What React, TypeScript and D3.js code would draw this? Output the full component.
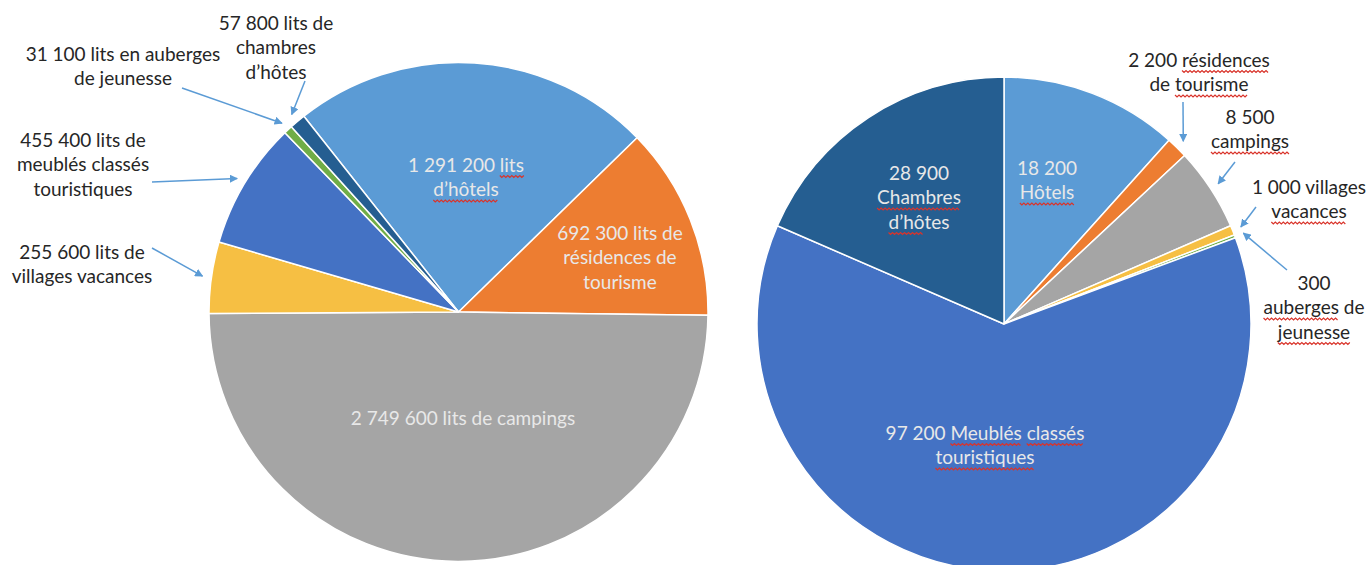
import { useEffect, useRef } from "react";
import * as d3 from "d3";

// beds (left pie), order as drawn clockwise
const leftOrder = ["hotels", "residences", "campings", "villages", "meubles", "auberges", "chambres"];
const leftValues = [1291200, 692300, 2749600, 255600, 455400, 31100, 57800];

// establishments (right pie)
const rightOrder = ["hotels", "residences", "campings", "villages", "auberges", "meubles", "chambres"];
const rightValues = [18200, 2200, 8500, 1000, 300, 97200, 28900];

const colors: Record<string, string> = {
  hotels: "#5b9bd5",
  residences: "#ed7d31",
  campings: "#a5a5a5",
  villages: "#f6bf43",
  meubles: "#4472c4",
  auberges: "#70ad47",
  chambres: "#255e91",
};

type Label = {
  key: string;
  lines: string[];
  x: number;
  y: number;
  inside: boolean;
  wavy?: string[];
  tail?: [number, number];
};

const leftLabels: Label[] = [
  { key: "chambres", lines: ["57 800 lits de", "chambres", "d’hôtes"], x: 276, y: 23, inside: false, tail: [305, 81] },
  { key: "auberges", lines: ["31 100 lits en auberges", "de jeunesse"], x: 123, y: 54, inside: false, tail: [182, 88] },
  { key: "meubles", lines: ["455 400 lits de", "meublés classés", "touristiques"], x: 83, y: 140, inside: false, tail: [152, 182] },
  { key: "villages", lines: ["255 600 lits de", "villages vacances"], x: 82, y: 252, inside: false, tail: [152, 248] },
  { key: "hotels", lines: ["1 291 200 lits", "d’hôtels"], x: 466, y: 165, inside: true, wavy: ["lits", "d’hôtels"] },
  { key: "residences", lines: ["692 300 lits de", "résidences de", "tourisme"], x: 620, y: 233, inside: true },
  { key: "campings", lines: ["2 749 600 lits de campings"], x: 463, y: 418, inside: true },
];

const rightLabels: Label[] = [
  { key: "residences", lines: ["2 200 résidences", "de tourisme"], x: 1199, y: 60, inside: false, wavy: ["résidences", "tourisme"], tail: [1183, 102] },
  { key: "campings", lines: ["8 500", "campings"], x: 1250, y: 117, inside: false, wavy: ["campings"], tail: [1235, 162] },
  { key: "villages", lines: ["1 000 villages", "vacances"], x: 1309, y: 187, inside: false, wavy: ["vacances"], tail: [1256, 207] },
  { key: "auberges", lines: ["300", "auberges de", "jeunesse"], x: 1314, y: 283, inside: false, wavy: ["auberges", "jeunesse"], tail: [1287, 270] },
  { key: "hotels", lines: ["18 200", "Hôtels"], x: 1047, y: 168, inside: true, wavy: ["Hôtels"] },
  { key: "chambres", lines: ["28 900", "Chambres", "d’hôtes"], x: 919, y: 173, inside: true, wavy: ["Chambres", "d’hô"] },
  { key: "meubles", lines: ["97 200 Meublés classés", "touristiques"], x: 985, y: 433, inside: true, wavy: ["Meublés", "classés", "touristiques"] },
];

const FONT = "Lato, 'Open Sans', sans-serif";

function App() {
  const ref = useRef<SVGSVGElement>(null);

  useEffect(() => {
    const svg = d3.select(ref.current);
    svg.selectAll("*").remove();

    const width = 1366;
    const height = 565;
    svg.attr("width", width).attr("height", height);

    svg
      .append("defs")
      .append("marker")
      .attr("id", "arrow")
      .attr("viewBox", "0 0 10 10")
      .attr("refX", 9)
      .attr("refY", 5)
      .attr("markerWidth", 5.5)
      .attr("markerHeight", 5.5)
      .attr("orient", "auto")
      .append("path")
      .attr("d", "M0,0L10,5L0,10Z")
      .attr("fill", "#5b9bd5");

    const drawPie = (
      order: string[],
      values: number[],
      labels: Label[],
      cx: number,
      cy: number,
      r: number,
      startDeg: number
    ) => {
      const data = order.map((k, i) => ({ key: k, value: values[i] }));
      const a0 = (startDeg * Math.PI) / 180;
      const pie = d3
        .pie<{ key: string; value: number }>()
        .sort(null)
        .value((d) => d.value)
        .startAngle(a0)
        .endAngle(a0 + 2 * Math.PI);
      const arcs = pie(data);
      const arc = d3
        .arc<d3.PieArcDatum<{ key: string; value: number }>>()
        .innerRadius(0)
        .outerRadius(r);
      const tipArc = d3
        .arc<d3.PieArcDatum<{ key: string; value: number }>>()
        .innerRadius(r + 9)
        .outerRadius(r + 9);

      const g = svg.append("g").attr("transform", `translate(${cx},${cy})`);
      g.selectAll("path")
        .data(arcs)
        .enter()
        .append("path")
        .attr("d", arc)
        .attr("fill", (d) => colors[d.data.key])
        .attr("stroke", "#fff")
        .attr("stroke-width", 1.5)
        .attr("stroke-linejoin", "round");

      labels.forEach((lb) => {
        const t = lb.inside ? "#e8e8e8" : "#262626";
        lb.lines.forEach((line, i) => {
          const y = lb.y + i * 24.5;
          const text = svg
            .append("text")
            .attr("x", lb.x)
            .attr("y", y)
            .attr("dy", "0.35em")
            .attr("text-anchor", "middle")
            .attr("fill", t)
            .style("font-family", FONT)
            .style("font-size", "19px")
            .text(line);
          const node = text.node() as SVGTextElement;
          const total = node.getComputedTextLength();
          (lb.wavy || []).forEach((w) => {
            const idx = line.indexOf(w);
            if (idx < 0) return;
            const off = idx > 0 ? node.getSubStringLength(0, idx) : 0;
            const len = node.getSubStringLength(idx, w.length);
            const xs = lb.x - total / 2 + off;
            const pts: [number, number][] = [];
            for (let k = 0; k * 2 <= len; k++) {
              pts.push([xs + k * 2, y + 11 + (k % 2 ? 1.5 : -0.5)]);
            }
            svg
              .append("path")
              .attr("d", d3.line()(pts))
              .attr("fill", "none")
              .attr("stroke", "#d9342b")
              .attr("stroke-width", 1.2);
          });
        });
        if (lb.tail) {
          const slice = arcs.find((a) => a.data.key === lb.key)!;
          const [tx, ty] = tipArc.centroid(slice);
          svg
            .append("line")
            .attr("x1", lb.tail[0])
            .attr("y1", lb.tail[1])
            .attr("x2", cx + tx)
            .attr("y2", cy + ty)
            .attr("stroke", "#5b9bd5")
            .attr("stroke-width", 1.5)
            .attr("marker-end", "url(#arrow)");
        }
      });
    };

    drawPie(leftOrder, leftValues, leftLabels, 458.5, 312, 249.5, -38.3);
    drawPie(rightOrder, rightValues, rightLabels, 1004, 324, 247, 0);
  }, []);

  return (
    <svg
      ref={ref}
      style={{ position: "absolute", left: 0, top: 0, background: "#fff" }}
    />
  );
}

export default App;
